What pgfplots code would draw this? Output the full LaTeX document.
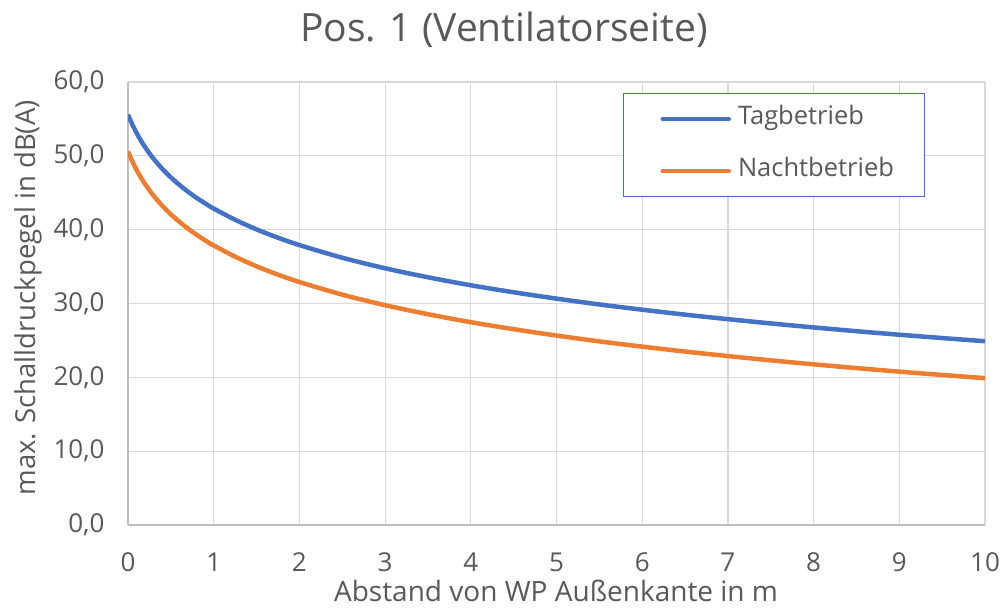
\documentclass[border=0pt]{standalone}
\usepackage{pgfplots}
\pgfplotsset{compat=1.18}
\usepackage{fontspec}
\setmainfont{Open Sans}
\definecolor{tag}{HTML}{4472C4}
\definecolor{nacht}{HTML}{ED7D31}
\definecolor{txt}{HTML}{595959}
\definecolor{gridc}{HTML}{D9D9D9}
\definecolor{axc}{HTML}{BFBFBF}
\begin{document}
\begin{tikzpicture}
\path[use as bounding box] (0,0) rectangle (1003bp,608bp);
\begin{axis}[
  at={(128bp,83bp)}, anchor=south west,
  scale only axis, width=857bp, height=443bp,
  xmin=0, xmax=10, ymin=0, ymax=60,
  xtick={0,1,...,10}, ytick={0,10,...,60},
  axis x line=bottom, axis y line=left,
  axis line style={draw=axc, line width=1.5bp, -},
  grid=major, major grid style={draw=gridc, line width=1.2bp},
  major tick length=0pt,
  tick label style={font=\fontsize{26bp}{30bp}\selectfont, text=txt},
  yticklabel style={/pgf/number format/.cd, fixed, fixed zerofill, precision=1, use comma, assume math mode=true, /tikz/.cd, xshift=-20bp},
  xticklabel style={/pgf/number format/assume math mode=true, yshift=-24bp},
  legend style={at={(rel axis cs:0.5776,0.975)}, anchor=north west,
    draw=tag, line width=1bp, inner xsep=31bp, inner ysep=13bp,
    font=\fontsize{25.5bp}{30bp}\selectfont, text=txt, row sep=27bp,
    nodes={inner sep=0pt, text height=18bp, text depth=7bp}},
  legend cell align=left,
  legend image code/.code={\path (0bp,0bp); \draw[#1, line width=4.5bp, line cap=round] (6bp,0bp) -- (72bp,0bp); \path (79bp,0bp);},
]
\addplot[tag, line width=4.5bp, smooth] coordinates {
(0,55.6) (0.02,55.04) (0.05,54.26) (0.1,53.1) (0.15,52.08) (0.2,51.16) (0.25,50.34) (0.3,49.58) (0.4,48.24) (0.5,47.08) (0.6,46.06) (0.7,45.14) (0.8,44.31) (0.9,43.56) (1,42.86) (1.25,41.34) (1.5,40.04) (1.75,38.91) (2,37.91) (2.5,36.2) (3,34.77) (3.5,33.55) (4,32.47) (4.5,31.52) (5,30.66) (5.5,29.87) (6,29.16) (6.5,28.49) (7,27.88) (7.5,27.3) (8,26.76) (8.5,26.25) (9,25.77) (9.5,25.32) (10,24.89)};
\addlegendentry{Tagbetrieb}
\addplot[nacht, line width=4.5bp, smooth] coordinates {
(0,50.6) (0.02,50.04) (0.05,49.26) (0.1,48.1) (0.15,47.08) (0.2,46.16) (0.25,45.34) (0.3,44.58) (0.4,43.24) (0.5,42.08) (0.6,41.06) (0.7,40.14) (0.8,39.31) (0.9,38.56) (1,37.86) (1.25,36.34) (1.5,35.04) (1.75,33.91) (2,32.91) (2.5,31.2) (3,29.77) (3.5,28.55) (4,27.47) (4.5,26.52) (5,25.66) (5.5,24.87) (6,24.16) (6.5,23.49) (7,22.88) (7.5,22.3) (8,21.76) (8.5,21.25) (9,20.77) (9.5,20.32) (10,19.89)};
\addlegendentry{Nachtbetrieb}
\end{axis}
\node[text=txt, font=\fontsize{39bp}{45bp}\selectfont] at (504bp,578bp) {Pos. 1 (Ventilatorseite)};
\node[text=txt, font=\fontsize{28bp}{32bp}\selectfont] at (556bp,17bp) {Abstand von WP Außenkante in m};
\node[text=txt, font=\fontsize{27.5bp}{31bp}\selectfont, rotate=90] at (28bp,310bp) {max. Schalldruckpegel in dB(A)};
\end{tikzpicture}
\end{document}
